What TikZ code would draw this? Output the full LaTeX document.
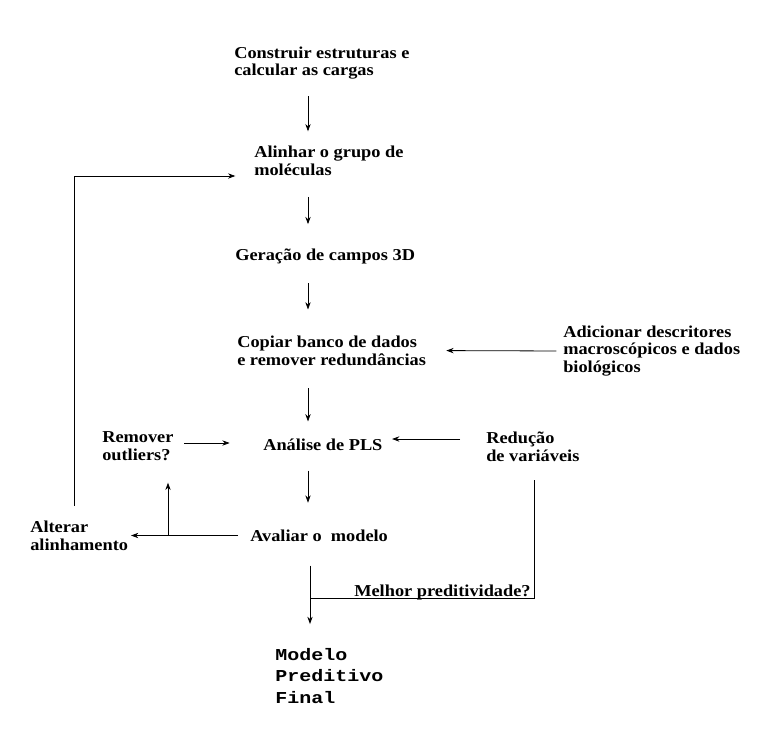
\documentclass[tikz,border=0pt]{standalone}
\usepackage{fontspec}
\setmainfont[FakeStretch=1.1]{Liberation Serif}
\newfontfamily\monof[FakeStretch=1.2]{Liberation Mono}
\usetikzlibrary{arrows.meta}
\begin{document}
\begin{tikzpicture}[x=0.75pt,y=-0.75pt,
  txt/.style={font=\bfseries\fontsize{12.5}{13.3}\selectfont, align=left, inner sep=0pt, anchor=west},
  mono/.style={font=\monof\bfseries\fontsize{12.5}{15.8}\selectfont, align=left, inner sep=0pt, anchor=west},
  arr/.style={-{Stealth[length=5.5pt,width=4pt]}, line width=0.6pt},
  ln/.style={line width=0.6pt}]
\useasboundingbox[fill=white] (0,0) rectangle (758,751);
% helper coordinates for connector positions
\coordinate (sp) at (308,0);
\coordinate (sp2) at (310,0);
\coordinate (rx) at (534,0);
\coordinate (lx) at (74,0);
\coordinate (bx) at (168,0);
\coordinate (yr) at (0,439);
\coordinate (yo) at (0,443);
\coordinate (jn) at (310,598);
% nodes
\node[txt] (con) at (234,63) {Construir estruturas e\\calcular as cargas};
\node[txt] (ali) at (254,161) {Alinhar o grupo de\\moléculas};
\node[txt] (ger) at (235,256) {Geração de campos 3D};
\node[txt] (cop) at (237,350.5) {Copiar banco de dados\\e remover redundâncias};
\node[txt] (adi) at (563,351) {Adicionar descritores\\macroscópicos e dados\\biológicos};
\node[txt] (pls) at (263,444.5) {Análise de PLS};
\node[txt] (rem) at (102,446) {Remover\\outliers?};
\node[txt] (red) at (486,446.5) {Redução\\de variáveis};
\node[txt] (ava) at (250,535.5) {Avaliar o~ modelo};
\node[txt] (alt) at (30,535.5) {Alterar\\alinhamento};
\node[mono] (mod) at (275,676) {Modelo\\Preditivo\\Final};
\node[txt, anchor=base west] (mel) at (354,596) {Melhor preditividade?};
% connectors
\draw[arr, shorten <=12.4pt, shorten >=11pt] (con.south -| sp) -- (ali.north -| sp);
\draw[arr, shorten <=15.7pt, shorten >=18pt] (ali.south -| sp) -- (ger.north -| sp);
\draw[arr, shorten <=14.6pt, shorten >=19.5pt] (ger.south -| sp) -- (cop.north -| sp);
\draw[arr, shorten <=17pt, shorten >=12.7pt] (cop.south -| sp) -- (pls.north -| sp);
\draw[arr, shorten <=15pt, shorten >=20pt] (pls.south -| sp) -- (ava.north -| sp);
\draw[arr, shorten <=18pt, shorten >=18.4pt] (ava.south -| sp2) -- (mod.north -| sp2);
\draw[arr, shorten <=5pt, shorten >=15pt] (adi.west) -- (cop.east);
\draw[arr, shorten <=8pt, shorten >=25pt] (rem.east |- yo) -- (pls.west |- yo);
\draw[arr, shorten <=19.5pt, shorten >=7pt] (red.west |- yr) -- (pls.east |- yr);
\draw[arr, shorten <=9pt, shorten >=2pt] (ava.west) -- (alt.east);
\draw[arr, shorten >=16.5pt] (ava.west -| bx) -- (rem.south -| bx);
\draw[arr, shorten <=11pt, shorten >=14pt] (alt.north -| lx) |- ([yshift=-11.25pt]ali.west);
\draw[ln, shorten <=14pt] (red.south -| rx) |- (jn);
\end{tikzpicture}
\end{document}
